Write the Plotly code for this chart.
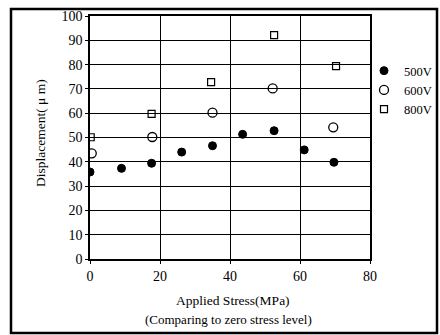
import plotly.graph_objects as go

# Data
x_500 = [0, 9, 17.6, 26.2, 35, 43.6, 52.6, 61.2, 69.7]
y_500 = [35.8, 37.3, 39.4, 44, 46.6, 51.3, 52.8, 44.9, 39.8]
x_600 = [0.5, 17.8, 35, 52.2, 69.5]
y_600 = [43.5, 50.2, 60.2, 70.2, 54.2]
x_800 = [0.2, 17.6, 34.6, 52.6, 70.3]
y_800 = [50.1, 59.7, 72.8, 92.1, 79.4]
series_names = ["500V", "600V", "800V"]
x_ticks = [0, 20, 40, 60, 80]
y_ticks = [0, 10, 20, 30, 40, 50, 60, 70, 80, 90, 100]

FONT = "Liberation Serif, Times New Roman, serif"

fig = go.Figure()
fig.add_trace(go.Scatter(x=x_500, y=y_500, mode="markers", name=series_names[0],
                         marker=dict(symbol="circle", size=8, color="black",
                                     line=dict(color="black", width=1))))
fig.add_trace(go.Scatter(x=x_600, y=y_600, mode="markers", name=series_names[1],
                         marker=dict(symbol="circle-open", size=9, color="black",
                                     line=dict(color="black", width=1.3))))
fig.add_trace(go.Scatter(x=x_800, y=y_800, mode="markers", name=series_names[2],
                         marker=dict(symbol="square-open", size=7, color="black",
                                     line=dict(color="black", width=1.2))))

W, H = 440, 335
L, R, T, B = 90, 70, 16, 76
pw, ph = W - L - R, H - T - B

def px(x):
    return (x - L) / pw

def py(y):
    return (H - B - y) / ph

fig.update_layout(
    width=W, height=H,
    margin=dict(l=L, r=R, t=T, b=B, autoexpand=False),
    paper_bgcolor="white", plot_bgcolor="white",
    font=dict(family=FONT, size=13, color="black"),
    showlegend=True,
    legend=dict(x=px(364), y=py(56), xanchor="left", yanchor="top",
                bgcolor="rgba(0,0,0,0)", font=dict(size=12.5, family=FONT),
                itemwidth=30, tracegroupgap=0),
    xaxis=dict(range=[0, 80], tickvals=x_ticks, ticktext=[str(v) for v in x_ticks],
               showgrid=True, gridcolor="black", gridwidth=1,
               showline=True, linecolor="black", linewidth=1.5, mirror=True,
               ticks="outside", ticklen=3, tickcolor="black", zeroline=False,
               tickfont=dict(size=14, family=FONT)),
    yaxis=dict(range=[0, 100], tickvals=y_ticks, ticktext=[str(v) for v in y_ticks],
               showgrid=True, gridcolor="black", gridwidth=1,
               showline=True, linecolor="black", linewidth=1.5, mirror=True,
               ticks="outside", ticklen=3, tickcolor="black", zeroline=False,
               tickfont=dict(size=14, family=FONT)),
    shapes=[dict(type="rect", xref="paper", yref="paper",
                 x0=px(11), x1=px(437), y0=py(333), y1=py(9),
                 line=dict(color="black", width=2.5), fillcolor="rgba(0,0,0,0)")],
    annotations=[
        dict(text="Displacement( μ m)", xref="paper", yref="paper",
             x=px(40), y=py(133), textangle=-90, showarrow=False,
             font=dict(size=13.5, family=FONT), xanchor="center", yanchor="middle"),
        dict(text="Applied Stress(MPa)", xref="paper", yref="paper",
             x=px(233), y=py(300), showarrow=False,
             font=dict(size=13.5, family=FONT), xanchor="center", yanchor="middle"),
        dict(text="(Comparing to zero stress level)", xref="paper", yref="paper",
             x=px(228), y=py(319), showarrow=False,
             font=dict(size=13, family=FONT), xanchor="center", yanchor="middle"),
    ],
)

fig.write_html("out.html", config={"displayModeBar": False},
               post_script="document.body.style.margin='0';document.body.style.overflow='hidden';")
